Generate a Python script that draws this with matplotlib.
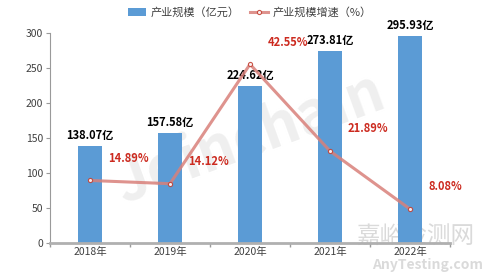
import matplotlib
matplotlib.use("Agg")
import matplotlib.pyplot as plt
import numpy as np

plt.rcParams['font.family'] = ['Noto Sans CJK SC', 'DejaVu Sans']

years = ["2018年", "2019年", "2020年", "2021年", "2022年"]
scale = [138.07, 157.58, 224.62, 273.81, 295.93]   # 产业规模 (亿元)
growth = [14.89, 14.12, 42.55, 21.89, 8.08]          # 增速 (%)

bar_color = "#5B9BD5"
line_color = "#D9807A"
red_text = "#CC2A1F"
axis_gray = "#9A9A9A"
text_gray = "#404040"

fig = plt.figure(figsize=(5, 2.77), dpi=100)

# watermarks, kept behind the chart
fig.text(0.5, 0.5, "Joinchain", fontsize=42, fontweight="bold", style="italic",
         color="#EFEFEF", rotation=20, ha="center", va="center", zorder=-1)
fig.text(0.83, 0.145, "嘉峪检测网", fontsize=17, color="#DADADA",
         ha="center", va="center", zorder=-1)
fig.text(0.855, 0.045, "AnyTesting.com", fontsize=10, style="italic", fontweight="bold",
         color="#DADADA", ha="center", va="center", zorder=-1)

ax = fig.add_axes([0.1, 0.1227, 0.8, 0.7583])
ax.patch.set_alpha(0)
x = np.arange(len(years))

ax.bar(x, scale, width=0.3, color=bar_color, zorder=2, label="产业规模（亿元）")
ax.set_xlim(-0.5, len(years) - 0.5)
ax.set_ylim(0, 300)
ax.set_yticks(range(0, 301, 50))
ax.set_xticks(x)
ax.set_xticklabels(years)
ax.set_xticks(np.arange(-0.5, len(years), 1), minor=True)
ax.tick_params(axis='x', which='major', length=0, labelsize=7.5, colors=text_gray, pad=3)
ax.tick_params(axis='x', which='minor', length=3, color=axis_gray, width=1)
ax.tick_params(axis='y', length=3, color=axis_gray, labelsize=7.5, colors=text_gray, pad=2)
for s in ["top", "right"]:
    ax.spines[s].set_visible(False)
ax.spines["left"].set_color(axis_gray)
ax.spines["bottom"].set_color("#B0B0B0")
ax.spines["bottom"].set_linewidth(2)

for xi, v in zip(x, scale):
    ax.annotate(f"{v:.2f}亿", (xi, v), xytext=(0, 3), textcoords="offset points",
                ha="center", va="bottom", fontsize=8, fontweight="bold", color="black", zorder=5)

ax2 = ax.twinx()
ax2.set_ylim(0, 50)
ax2.axis("off")
ax2.plot(x, growth, color=line_color, lw=2.2, alpha=0.85, marker="o", ms=3,
         mfc="white", mec="#C0392B", mew=0.8, zorder=3, label="产业规模增速（%）")
for xi, v in zip(x, growth):
    ax2.annotate(f"{v:.2f}%", (xi, v), xytext=(13, 16), textcoords="offset points",
                 ha="left", va="center", fontsize=8, fontweight="bold", color=red_text)

h1, l1 = ax.get_legend_handles_labels()
h2, l2 = ax2.get_legend_handles_labels()
fig.legend(h1 + h2, l1 + l2, loc="upper center", bbox_to_anchor=(0.5, 1.01), ncol=2,
           frameon=False, fontsize=8, handlelength=1.6, handleheight=0.7,
           columnspacing=1.0, handletextpad=0.4, labelcolor=text_gray)

fig.savefig("out.png", dpi=100)
